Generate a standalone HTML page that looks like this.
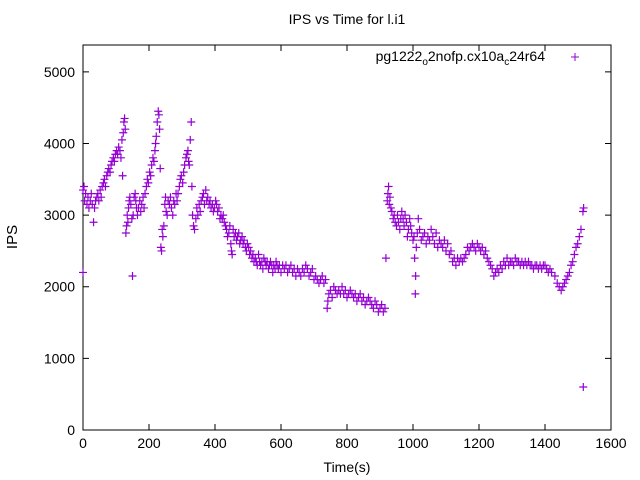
<!DOCTYPE html>
<html><head><meta charset="utf-8"><style>
body{margin:0;background:#fff}
svg{display:block;font-family:"Liberation Sans",sans-serif}
</style></head><body>
<svg id="chart" width="640" height="480">
<text x="347" y="24" font-size="14" text-anchor="middle">IPS vs Time for l.i1</text>
<text x="17" y="237" font-size="15" text-anchor="middle" transform="rotate(-90 17 237)">IPS</text>
<text x="347" y="472" font-size="14" text-anchor="middle">Time(s)</text>
<g id="axes"></g>
<g id="marks"></g>
<g>
<text x="545" y="61" font-size="14" text-anchor="end">pg1222<tspan font-size="10" dy="4">o</tspan><tspan dy="-4">2nofp.cx10a</tspan><tspan font-size="10" dy="4">c</tspan><tspan dy="-4">24r64</tspan></text>
<path d="M571 57h8M575 53v8" stroke="#9400d3" stroke-width="1"/>
</g>
</svg>
<script>
const xTicks=[0,200,400,600,800,1000,1200,1400,1600];
const yTicks=[0,1000,2000,3000,4000,5000];
const times=[0,0,3,5,8,12,15,18,22,25,28,32,35,38,42,45,48,52,55,58,62,65,68,72,75,78,82,85,88,92,95,98,102,105,108,112,115,118,120,122,124,126,128,130,132,134,136,138,140,142,145,148,150,152,155,158,160,162,165,168,172,175,178,182,185,188,192,195,198,202,205,208,212,215,218,220,222,225,228,230,232,234,236,238,240,242,245,248,250,252,255,258,262,265,268,272,275,278,282,285,288,292,295,298,302,305,308,312,315,318,320,322,325,328,330,332,335,338,342,345,348,352,355,358,362,365,368,372,375,378,382,385,388,392,395,398,402,405,408,412,415,418,422,425,428,432,435,438,442,445,448,450,452,455,458,462,465,468,472,475,478,482,485,488,492,495,498,502,505,508,512,515,518,522,525,528,532,535,538,542,545,548,552,555,558,562,565,568,572,575,578,582,585,588,592,595,600,605,610,615,620,625,630,635,640,645,650,655,660,665,670,675,680,685,690,695,700,705,710,715,720,725,730,735,740,742,745,750,755,760,765,770,775,780,785,790,795,800,805,810,815,820,825,830,835,840,845,850,855,860,865,870,875,880,885,890,895,900,905,910,915,918,922,924,926,928,930,933,936,940,943,946,950,953,956,960,963,966,970,973,976,980,983,986,990,993,996,1000,1003,1005,1007,1008,1010,1013,1016,1020,1025,1030,1035,1040,1045,1050,1055,1060,1065,1070,1075,1080,1085,1090,1095,1100,1105,1110,1115,1120,1125,1130,1135,1140,1145,1150,1155,1160,1165,1170,1175,1180,1185,1190,1195,1200,1205,1210,1215,1220,1225,1230,1235,1240,1245,1250,1255,1260,1265,1270,1275,1280,1285,1290,1295,1300,1305,1310,1315,1320,1325,1330,1335,1340,1345,1350,1355,1360,1365,1370,1375,1380,1385,1390,1395,1400,1405,1410,1415,1420,1430,1437,1443,1449,1454,1459,1464,1469,1474,1479,1484,1489,1494,1499,1504,1509,1515,1517,1516];
const ips=[3350,2200,3400,3200,3300,3150,3250,3100,3200,3300,3150,2900,3100,3200,3250,3300,3200,3350,3250,3400,3450,3500,3400,3550,3600,3650,3600,3700,3750,3800,3750,3850,3900,3850,3950,3900,3800,4050,3550,4150,4300,4350,4200,2750,2850,3000,2900,3100,3200,3250,3150,2950,2150,3000,3250,3300,3200,3100,3000,3100,3200,3050,3150,3250,3100,3300,3400,3500,3450,3600,3550,3700,3800,3750,3900,4000,4100,4300,4450,4400,4200,3650,2550,2500,2800,2700,2850,3150,3250,3050,3000,3200,3150,3250,3100,3000,3200,3150,3300,3200,3300,3400,3500,3550,3450,3600,3700,3800,3850,3900,3750,3700,4050,4300,3400,3000,2850,2800,2950,3100,3000,3150,3050,3200,3250,3300,3150,3350,3200,3250,3150,3200,3100,3150,3050,3100,3200,3150,3050,3100,2950,3000,2950,3000,2900,2850,2800,2700,2750,2850,2600,2500,2450,2800,2700,2750,2650,2700,2750,2600,2650,2700,2600,2650,2550,2500,2600,2550,2450,2500,2400,2450,2350,2400,2350,2300,2450,2350,2300,2350,2250,2400,2350,2300,2350,2250,2300,2350,2300,2200,2300,2250,2350,2300,2250,2300,2200,2300,2250,2300,2200,2250,2300,2200,2250,2150,2250,2200,2150,2250,2200,2300,2250,2150,2200,2250,2100,2150,2100,2050,2100,2150,2050,2100,1700,1800,1900,1950,1850,2000,1950,1900,1950,1900,2000,1900,1950,1850,1900,1950,1900,1850,1900,1800,1850,1900,1800,1850,1750,1800,1850,1800,1750,1700,1800,1750,1650,1700,1750,1650,1700,2400,3200,3300,3400,3150,3250,3100,3050,2950,3000,2900,2850,3000,2900,2800,2950,3050,2950,2850,3000,2900,2700,2800,2950,2850,2750,2650,2700,2400,1900,2150,2550,2750,2950,2800,2650,2700,2750,2600,2700,2650,2800,2700,2600,2750,2550,2650,2600,2550,2650,2500,2600,2450,2500,2350,2400,2300,2400,2350,2400,2350,2400,2450,2550,2500,2550,2600,2550,2500,2600,2550,2500,2550,2450,2500,2400,2350,2300,2250,2150,2200,2250,2200,2300,2250,2350,2300,2400,2300,2350,2350,2300,2400,2350,2350,2300,2350,2300,2350,2300,2350,2300,2300,2250,2300,2300,2250,2300,2250,2300,2300,2250,2200,2250,2200,2150,2050,2000,1950,2000,2050,2100,2150,2200,2300,2350,2450,2550,2600,2700,2800,3050,3100,600];
const L=83,R=611,T=45,B=430,XMAX=1600,YMAX=5000;
const xs=t=>L+t/XMAX*(R-L);
const ys=v=>B-v/YMAX*(B-T)*(YMAX/5375);
const NS="http://www.w3.org/2000/svg";
const ax=document.getElementById('axes');
function mk(tag,attrs,parent){const e=document.createElementNS(NS,tag);for(const k in attrs)e.setAttribute(k,attrs[k]);parent.appendChild(e);return e;}
const frame=mk('rect',{x:L,y:T,width:R-L,height:B-T,fill:'none',stroke:'#000','stroke-width':1},ax);


xTicks.forEach(t=>{const x=xs(t);
 const tk=mk('path',{d:`M${x} ${B}v-6M${x} ${T}v6`,stroke:'#000'},ax);
 
 
 const lb=mk('text',{x:x,y:B+18,'font-size':14,'text-anchor':'middle'},ax);lb.textContent=t;
 
 });
yTicks.forEach(v=>{const y=ys(v);
 const tk=mk('path',{d:`M${L} ${y}h6M${R} ${y}h-6`,stroke:'#000'},ax);
 
 
 const lb=mk('text',{x:L-8,y:y+5,'font-size':14,'text-anchor':'end'},ax);lb.textContent=v;
 
 });
const mg=document.getElementById('marks');
times.forEach((t,i)=>{const x=xs(t),y=ys(ips[i]);
 const p=mk('path',{d:`M${x-4} ${y}h8M${x} ${y-4}v8`,stroke:'#9400d3','stroke-width':1.2},mg);
 
 });
</script>
</body></html>
